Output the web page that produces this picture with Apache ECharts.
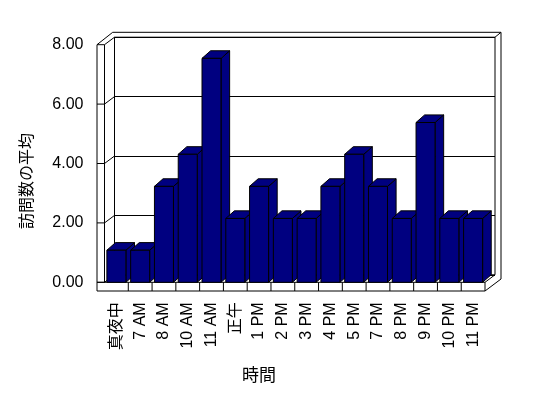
<!DOCTYPE html>
<html>
<head>
<meta charset="utf-8">
<script src="https://cdn.jsdelivr.net/npm/echarts@6/dist/echarts.min.js"></script>
<style>
    html, body { margin: 0; padding: 0; background: #fff; }
    #main { width: 548px; height: 398px; }
</style>
</head>
<body>
<div id="main"></div>
<script>
    // データ
    var hours = ['真夜中', '7 AM', '8 AM', '10 AM', '11 AM', '正午', '1 PM', '2 PM',
        '3 PM', '4 PM', '5 PM', '7 PM', '8 PM', '9 PM', '10 PM', '11 PM'];
    var avgVisits = [1.08, 1.08, 3.23, 4.31, 7.54, 2.15, 3.23, 2.15,
        2.15, 3.23, 4.31, 3.23, 2.15, 5.38, 2.15, 2.15];
    var yTicks = [0, 2, 4, 6, 8];

    var FONT = "'Liberation Sans', 'Noto Sans CJK JP', sans-serif";
    // 前面のプロット領域
    var FL = 104.5, FT = 44.7, FW = 380.5, FH = 237.6;
    var FB = FT + FH, FR = FL + FW;
    // 奥行き (壁)
    var DX = 10, DY = -7.5;
    // 奥行き (棒)
    var BDX = 8.6, BDY = -7.6;

    var myChart = echarts.init(document.getElementById('main'));

    myChart.setOption({
        backgroundColor: '#fff',
        animation: false,
        grid: [
            {left: FL, top: FT, width: FW, height: FH},
            // 奥の壁
            {left: FL + DX, top: FT + DY, width: FW, height: FH, show: true,
                borderColor: '#000', borderWidth: 1, backgroundColor: 'transparent'}
        ],
        xAxis: [
            {
                type: 'category',
                gridIndex: 0,
                data: hours,
                axisLine: {show: false},
                axisTick: {show: false},
                axisLabel: {
                    rotate: 90,
                    margin: 20,
                    color: '#000',
                    fontSize: 16,
                    fontFamily: FONT,
                    interval: 0
                }
            },
            {
                type: 'category',
                gridIndex: 1,
                data: hours,
                show: false
            }
        ],
        yAxis: [
            {
                type: 'value',
                gridIndex: 0,
                min: 0,
                max: 8,
                interval: 2,
                axisLine: {show: false},
                axisTick: {show: false},
                splitLine: {show: false},
                axisLabel: {
                    margin: 21,
                    color: '#000',
                    fontSize: 16,
                    fontFamily: FONT,
                    formatter: function (v) { return v.toFixed(2); }
                }
            },
            {
                type: 'value',
                gridIndex: 1,
                min: 0,
                max: 8,
                interval: 2,
                axisLine: {show: false},
                axisTick: {show: false},
                axisLabel: {show: false},
                splitLine: {lineStyle: {color: '#000', width: 1}}
            }
        ],
        series: [
            {
                name: '訪問数の平均',
                type: 'custom',
                xAxisIndex: 0,
                yAxisIndex: 0,
                data: avgVisits.map(function (v, i) { return [i, v]; }),
                renderItem: function (params, api) {
                    var top = api.coord([api.value(0), api.value(1)]);
                    var base = api.coord([api.value(0), 0]);
                    var w = api.size([1, 0])[0] * 0.8;
                    var x0 = top[0] - w / 2, x1 = top[0] + w / 2;
                    var st = {fill: '#000080', stroke: '#000', lineWidth: 1};
                    return {
                        type: 'group',
                        children: [
                            {type: 'polygon', shape: {points: [[x1, top[1]], [x1 + BDX, top[1] + BDY],
                                [x1 + BDX, base[1] + BDY], [x1, base[1]]]}, style: st},
                            {type: 'polygon', shape: {points: [[x0, top[1]], [x0 + BDX, top[1] + BDY],
                                [x1 + BDX, top[1] + BDY], [x1, top[1]]]}, style: st},
                            {type: 'rect', shape: {x: x0, y: top[1], width: w, height: base[1] - top[1]}, style: st}
                        ]
                    };
                }
            }
        ]
    });

    // 壁と床の線
    function line(pts) {
        return {type: 'polyline', z: 0, silent: true, shape: {points: pts},
            style: {stroke: '#000', lineWidth: 1, fill: null}};
    }
    var WL = 97, FLOOR_B = 291, OUT_T = 32.3, OUT_R = 501;
    var els = [
        line([[WL, FT], [WL, FLOOR_B], [FR, FLOOR_B], [FR, FB]]),
        line([[FL, FT], [FL, FB]]),
        line([[WL, FT], [WL + 15.7, OUT_T], [OUT_R, OUT_T], [OUT_R, 279], [FR, FLOOR_B]]),
        line([[FR + DX, FT + DY], [OUT_R, OUT_T]]),
        line([[WL, FB], [FR, FB], [FR + DX, FB + DY]])
    ];
    for (var k = 1; k < hours.length; k++) {
        var xx = FL + k * FW / hours.length;
        els.push(line([[xx, FB], [xx, FLOOR_B]]));
    }
    yTicks.forEach(function (v) {
        var y = myChart.convertToPixel({yAxisIndex: 0}, v);
        els.push(line([[WL, y], [FL, y], [FL + DX, y + DY]]));
    });
    els.push({type: 'text', z: 1, x: 259, y: 376, style: {text: '時間', fontSize: 17,
        fontFamily: FONT, fill: '#000', align: 'center', verticalAlign: 'middle'}});
    els.push({type: 'text', z: 1, x: 28, y: 181, rotation: Math.PI / 2, style: {text: '訪問数の平均',
        fontSize: 16, fontFamily: FONT, fill: '#000', align: 'center', verticalAlign: 'middle'}});

    myChart.setOption({graphic: els});
</script>
</body>
</html>
